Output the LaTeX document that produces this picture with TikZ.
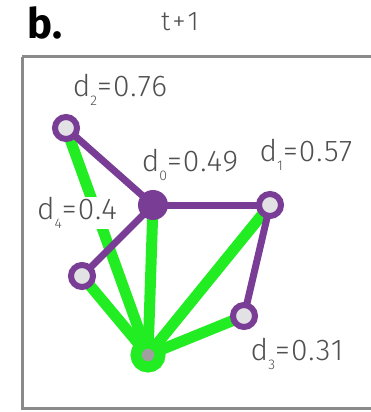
\documentclass[tikz,border=0pt]{standalone}
\usepackage{fontspec}
\setmainfont{Fira Sans Light}
\newfontfamily\boldsans{Fira Sans}[BoldFont={* Bold}]
\usetikzlibrary{backgrounds}
\definecolor{vpurple}{RGB}{122,61,150}
\definecolor{vgreen}{RGB}{34,236,34}
\definecolor{vring}{RGB}{226,226,228}
\definecolor{vtext}{RGB}{80,80,80}
\definecolor{vframe}{RGB}{138,138,138}
\newcommand\lsub[1]{\raisebox{-0.55ex}{\fontsize{14}{14}\selectfont #1}}
\tikzset{
  x=1pt, y=-1pt,
  ringnode/.style={circle, draw=vpurple, line width=6pt, fill=vring, minimum size=22pt, inner sep=0pt},
  hubnode/.style={circle, fill=vpurple, minimum size=30pt, inner sep=0pt},
  greennode/.style={circle, draw=vgreen, line width=11pt, fill=gray!75, minimum size=24pt, inner sep=0pt},
  dlabel/.style={text=vtext, font=\fontsize{30}{30}\selectfont\addfontfeatures{LetterSpace=4}, inner sep=1pt},
  gedge/.style={draw=vgreen, line width=11pt},
  pedge/.style={draw=vpurple, line width=7pt},
}
\begin{document}
\begin{tikzpicture}
\useasboundingbox (0,0) rectangle (370,412);
\node[font=\boldsans\bfseries\fontsize{42}{42}\selectfont, anchor=base] (b) at (45,39) {b.};
\node[text=vtext, font=\fontsize{27}{27}\selectfont, anchor=base] (t) at (180,31) {t\kern2pt+\kern2pt1};
\node[ringnode] (n2) at (66,128) {};
\node[hubnode] (n0) at (153,205) {};
\node[ringnode] (n1) at (270,205) {};
\node[ringnode] (n4) at (82,276) {};
\node[ringnode] (n3) at (244,316) {};
\node[greennode] (g) at (148,355) {};
\begin{scope}[on background layer]
\fill[white] (0,0) rectangle (370,412);
\draw[vframe, line width=3pt] (22,57) -- (22,408) -- (380,408) (22,57) -- (380,57);
\draw[gedge] (g.center) -- (n2.center);
\draw[gedge] (g.center) -- (n0.center);
\draw[gedge] (g.center) -- (n1.center);
\draw[gedge] (g.center) -- (n4.center);
\draw[gedge] (g.center) -- (n3.center);
\draw[pedge] (n2.center) -- (n0.center);
\draw[pedge] (n0.center) -- (n1.center);
\draw[pedge] (n0.center) -- (n4.center);
\draw[pedge] (n1.center) -- (n3.center);
\end{scope}
\node[dlabel] (l2) at (120,90) {d\lsub{2}=0.76};
\node[dlabel] (l0) at (190,165) {d\lsub{0}=0.49};
\node[dlabel] (l1) at (306,155) {d\lsub{1}=0.57};
\node[dlabel, fill=white] (l4) at (77,213) {d\lsub{4}=0.4};
\node[dlabel] (l3) at (297,354) {d\lsub{3}=0.31};
\end{tikzpicture}
\end{document}
